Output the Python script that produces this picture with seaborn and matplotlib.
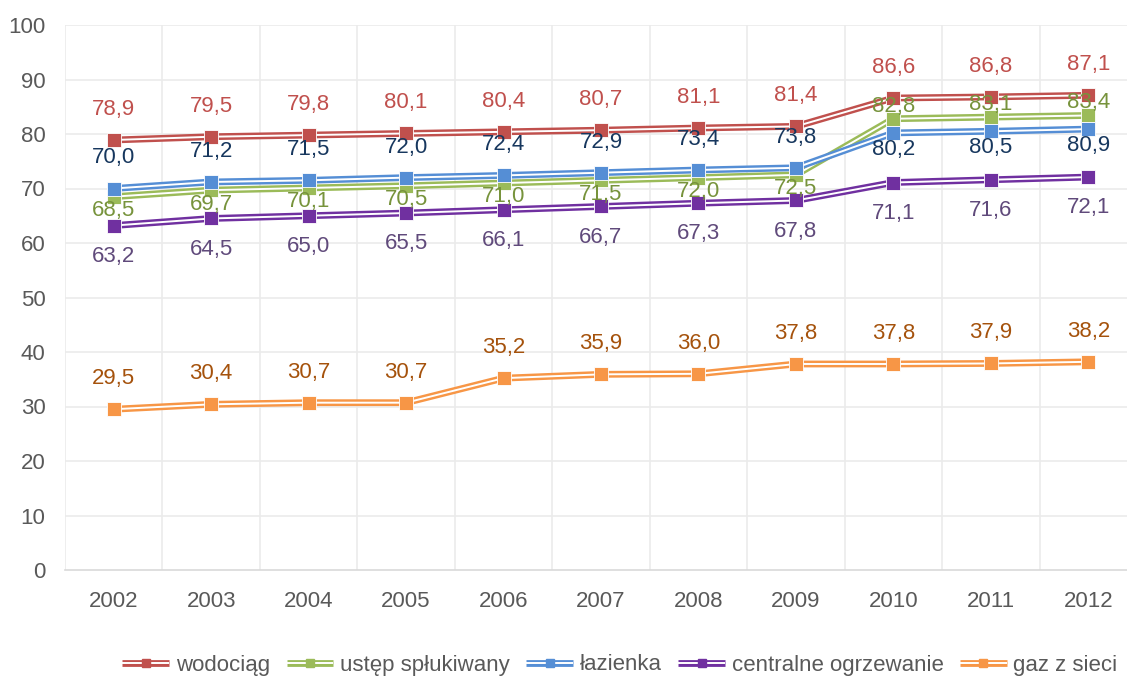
import numpy as np
import pandas as pd
import matplotlib
matplotlib.use('Agg')
import matplotlib.pyplot as plt
import matplotlib.patheffects as pe
from matplotlib.lines import Line2D
from matplotlib.legend_handler import HandlerTuple
import seaborn as sns

# Data
years = ['2002', '2003', '2004', '2005', '2006', '2007', '2008', '2009', '2010', '2011', '2012']
wodociag = [78.9, 79.5, 79.8, 80.1, 80.4, 80.7, 81.1, 81.4, 86.6, 86.8, 87.1]
ustep = [68.5, 69.7, 70.1, 70.5, 71.0, 71.5, 72.0, 72.5, 82.8, 83.1, 83.4]
lazienka = [70.0, 71.2, 71.5, 72.0, 72.4, 72.9, 73.4, 73.8, 80.2, 80.5, 80.9]
centralne = [63.2, 64.5, 65.0, 65.5, 66.1, 66.7, 67.3, 67.8, 71.1, 71.6, 72.1]
gaz = [29.5, 30.4, 30.7, 30.7, 35.2, 35.9, 36.0, 37.8, 37.8, 37.9, 38.2]

series_names = ['wodociąg', 'ustęp spłukiwany', 'łazienka', 'centralne ogrzewanie', 'gaz z sieci']
series_values = [wodociag, ustep, lazienka, centralne, gaz]
line_colors = ['#C0504D', '#9BBB59', '#558ED5', '#7030A0', '#F79646']
label_colors = ['#C0504D', '#77933C', '#17375E', '#604A7B', '#A5520C']

# label offsets in points (positive = above the marker)
label_offsets = [
    [22] * 11,
    [-10] * 8 + [9] * 3,
    [22] * 8 + [-12] * 3,
    [-22] * 11,
    [22] * 11,
]

sns.set_theme(style='white')
plt.rcParams['font.family'] = ['Liberation Sans', 'DejaVu Sans']
FS = 16

df = pd.DataFrame({'year': np.tile(np.arange(len(years)), len(series_names)),
                   'value': np.concatenate(series_values),
                   'series': np.repeat(series_names, len(years))})

fig = plt.figure(figsize=(11.27, 6.80), dpi=100)
ax = fig.add_axes([65 / 1127, 1 - 570 / 680, 1072 / 1127, 545 / 680])

handles = []
for name, color in zip(series_names, line_colors):
    sub = df[df['series'] == name]
    sns.lineplot(data=sub, x='year', y='value', ax=ax, color='white', lw=1.4,
                 solid_capstyle='butt',
                 path_effects=[pe.Stroke(linewidth=4.9, foreground=color), pe.Normal()],
                 zorder=3, legend=False)
    ax.plot(sub['year'], sub['value'], ls='none', marker='s', ms=9.5,
            mfc=color, mec='white', mew=0.6, zorder=4)
    h_line = Line2D([], [], color='white', lw=1.4, solid_capstyle='butt',
                    path_effects=[pe.Stroke(linewidth=4.9, foreground=color), pe.Normal()])
    h_mark = Line2D([], [], ls='none', marker='s', ms=5.5, mfc=color, mec=color)
    handles.append((h_line, h_mark))

# data labels
for vals, lc, offs in zip(series_values, label_colors, label_offsets):
    for i, v in enumerate(vals):
        ax.annotate(f'{v:.1f}'.replace('.', ','), (i, v), xytext=(0, offs[i]),
                    textcoords='offset points', ha='center', va='center',
                    fontsize=FS, color=lc, zorder=5)

ax.set_xlim(-0.5, len(years) - 0.5)
ax.set_ylim(0, 100)
ax.set_yticks(np.arange(0, 101, 10))
ax.set_xticks(np.arange(len(years)))
ax.set_xticklabels(years)
ax.set_xlabel('')
ax.set_ylabel('')

# grid: horizontal at each 10, vertical between categories
for y in np.arange(10, 101, 10):
    ax.axhline(y, color='#EBEBEB', lw=1.2, zorder=0)
for x in np.arange(-0.5, len(years), 1.0):
    ax.axvline(x, color='#EBEBEB', lw=1.2, zorder=0)

for side in ['top', 'right', 'left']:
    ax.spines[side].set_visible(False)
ax.spines['bottom'].set_color('#D9D9D9')
ax.spines['bottom'].set_linewidth(1.2)
ax.tick_params(axis='both', length=0, labelsize=FS, colors='#595959')
ax.tick_params(axis='x', pad=15)
ax.tick_params(axis='y', pad=14)

fig.legend(handles, series_names, handler_map={tuple: HandlerTuple(ndivide=1)},
           loc='center', bbox_to_anchor=(620 / 1127, 1 - 665 / 680), ncol=5,
           frameon=False, fontsize=16, labelcolor='#595959',
           handlelength=2.1, handletextpad=0.3, columnspacing=0.75)

fig.savefig('out.png', dpi=100)
